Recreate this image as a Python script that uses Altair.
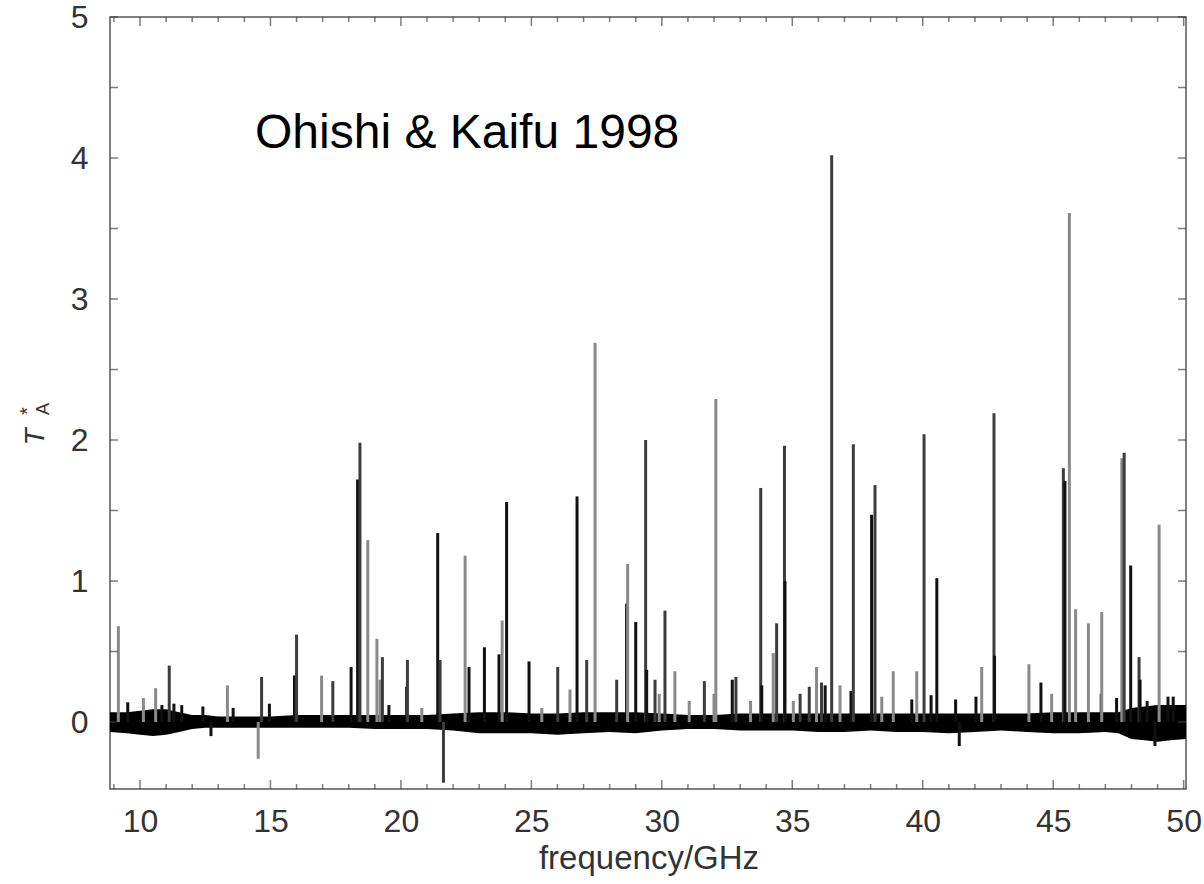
import altair as alt
import pandas as pd

# ---- spectral lines (GHz, T*_A, shade) ----
line_freq = [9.17, 9.53, 10.13, 10.60, 10.84, 11.12, 11.30, 11.60, 12.41, 13.35,
             13.57, 14.66, 14.96, 15.92, 16.00, 16.96, 17.39, 18.09, 18.34, 18.43,
             18.73, 19.08, 19.20, 19.29, 19.54, 20.22, 20.25, 20.80, 21.41, 21.50,
             22.46, 22.61, 23.20, 23.76, 23.88, 24.05, 24.91, 25.40, 26.01, 26.48,
             26.75, 27.12, 27.44, 28.27, 28.65, 28.69, 29.00, 29.38, 29.42, 29.74,
             29.90, 30.12, 30.50, 31.05, 31.63, 32.00, 32.07, 32.70, 32.84, 33.40,
             33.79, 33.83, 34.27, 34.40, 34.70, 34.72, 35.04, 35.30, 35.65, 35.93,
             36.12, 36.26, 36.51, 36.83, 37.25, 37.34, 38.04, 38.17, 38.43, 38.87,
             39.58, 39.77, 40.05, 40.32, 40.54, 41.26, 42.04, 42.26, 42.73, 42.75,
             44.07, 44.53, 44.94, 45.39, 45.45, 45.62, 45.86, 46.35, 46.84, 46.86,
             47.43, 47.63, 47.72, 47.97, 48.29, 48.33, 48.60, 49.06, 49.40, 49.60,
             12.72, 14.53, 21.63, 41.40, 48.90]
line_height = [0.68, 0.14, 0.17, 0.24, 0.12, 0.40, 0.13, 0.12, 0.11, 0.26,
               0.10, 0.32, 0.13, 0.33, 0.62, 0.33, 0.29, 0.39, 1.72, 1.98,
               1.29, 0.59, 0.30, 0.46, 0.12, 0.25, 0.44, 0.10, 1.34, 0.44,
               1.18, 0.39, 0.53, 0.48, 0.72, 1.56, 0.43, 0.10, 0.39, 0.23,
               1.60, 0.44, 2.69, 0.30, 0.84, 1.12, 0.71, 2.00, 0.37, 0.30,
               0.20, 0.79, 0.36, 0.15, 0.29, 0.20, 2.29, 0.30, 0.32, 0.15,
               1.66, 0.26, 0.49, 0.70, 1.96, 1.00, 0.15, 0.20, 0.25, 0.39,
               0.28, 0.26, 4.02, 0.26, 0.22, 1.97, 1.47, 1.68, 0.18, 0.36,
               0.16, 0.36, 2.04, 0.19, 1.02, 0.16, 0.18, 0.39, 2.19, 0.47,
               0.41, 0.28, 0.20, 1.80, 1.71, 3.61, 0.80, 0.70, 0.20, 0.78,
               0.17, 1.87, 1.91, 1.11, 0.46, 0.30, 0.15, 1.40, 0.18, 0.18,
               -0.10, -0.26, -0.43, -0.17, -0.17]
line_shade = ["g", "k", "g", "g", "k", "m", "k", "k", "k", "g",
              "k", "m", "k", "k", "m", "g", "m", "k", "k", "m",
              "g", "g", "g", "m", "k", "k", "m", "g", "k", "m",
              "g", "k", "k", "k", "g", "k", "k", "g", "m", "g",
              "k", "m", "g", "m", "k", "g", "k", "m", "k", "m",
              "g", "m", "g", "g", "m", "g", "g", "k", "m", "g",
              "m", "k", "g", "m", "m", "k", "g", "m", "m", "g",
              "m", "k", "m", "g", "k", "m", "k", "m", "g", "g",
              "k", "g", "m", "k", "k", "k", "k", "g", "m", "k",
              "g", "k", "g", "m", "k", "g", "g", "g", "k", "g",
              "k", "g", "m", "k", "m", "k", "k", "g", "k", "k",
              "k", "g", "m", "k", "k"]

# ---- envelope of the noisy baseline ----
noise_freq = [8.85, 9.5, 10.0, 10.5, 11.0, 11.5, 12.0, 12.5, 13.0, 14.0,
              15.0, 16.0, 17.0, 18.0, 19.0, 20.0, 21.0, 22.0, 23.0, 24.0,
              25.0, 26.0, 27.0, 28.0, 29.0, 30.0, 31.0, 32.0, 33.0, 34.0,
              35.0, 36.0, 37.0, 38.0, 39.0, 40.0, 41.0, 42.0, 43.0, 44.0,
              45.0, 46.0, 47.0, 47.5, 48.0, 48.5, 49.0, 49.5, 50.09]
noise_upper = [0.07, 0.07, 0.08, 0.09, 0.09, 0.07, 0.05, 0.05, 0.04, 0.04,
               0.04, 0.05, 0.05, 0.05, 0.05, 0.05, 0.05, 0.06, 0.07, 0.07,
               0.06, 0.06, 0.07, 0.07, 0.07, 0.06, 0.05, 0.05, 0.06, 0.06,
               0.06, 0.06, 0.06, 0.06, 0.06, 0.06, 0.06, 0.06, 0.06, 0.06,
               0.07, 0.07, 0.07, 0.07, 0.10, 0.11, 0.12, 0.12, 0.12]
noise_lower = [-0.07, -0.08, -0.09, -0.10, -0.09, -0.07, -0.05, -0.04, -0.04, -0.04,
               -0.04, -0.04, -0.04, -0.04, -0.05, -0.05, -0.05, -0.06, -0.08, -0.08,
               -0.08, -0.09, -0.08, -0.07, -0.08, -0.06, -0.05, -0.05, -0.06, -0.06,
               -0.06, -0.07, -0.07, -0.06, -0.07, -0.07, -0.08, -0.07, -0.06, -0.07,
               -0.08, -0.08, -0.07, -0.08, -0.12, -0.13, -0.14, -0.13, -0.12]

x_tick_labels = [10, 15, 20, 25, 30, 35, 40, 45, 50]
y_tick_labels = [0, 1, 2, 3, 4, 5]
x_domain = [8.85, 50.09]
y_domain = [-0.475, 5.0]

annotation = "Ohishi & Kaifu 1998"
x_title = "frequency/GHz"

W, H = 1076, 772
FONT = "Liberation Sans"
TICK_COLOR = "#444444"

lines = pd.DataFrame({"f": line_freq, "t": line_height, "shade": line_shade})
lines["base"] = 0.0
noise = pd.DataFrame({"f": noise_freq, "hi": noise_upper, "lo": noise_lower})

xs = alt.Scale(domain=x_domain, nice=False, zero=False)
ys = alt.Scale(domain=y_domain, nice=False, zero=False)

x_axis = alt.Axis(values=x_tick_labels, title="", labelFont=FONT,
                  labelFontSize=32, labelColor="#333333", ticks=False, domain=False,
                  grid=False, labelPadding=17, labelFlush=False)
y_axis = alt.Axis(values=y_tick_labels, title="", labelFont=FONT, labelFontSize=32,
                  labelColor="#333333", ticks=False, domain=False, grid=False,
                  labelPadding=22, labelFlush=False)

X = alt.X("f:Q", scale=xs, axis=x_axis)

band = alt.Chart(noise).mark_area(color="#000000", clip=True).encode(
    x=X,
    y=alt.Y("lo:Q", scale=ys, axis=y_axis),
    y2="hi:Q",
)

rules = alt.Chart(lines).mark_rule(strokeWidth=3, clip=True).encode(
    x=X,
    y=alt.Y("t:Q", scale=ys, axis=y_axis),
    y2="base:Q",
    color=alt.Color("shade:N", scale=alt.Scale(domain=["k", "m", "g"],
                    range=["#111111", "#3c3c3c", "#8a8a8a"]), legend=None),
)

# ---- inward ticks on all four sides ----
x_major = pd.DataFrame({"f": x_tick_labels})
x_minor = pd.DataFrame({"f": [v for v in range(9, 51) if v not in x_tick_labels]})
y_all = pd.DataFrame({"t": [i * 0.5 for i in range(0, 11)]})


def xticks(df, length, top):
    return alt.Chart(df).mark_tick(size=length, thickness=1.5, color=TICK_COLOR).encode(
        x=X,
        y=alt.value(length / 2 if top else H - length / 2),
    )


def yticks(df, length, right):
    return alt.Chart(df).mark_tick(size=length, thickness=1.5, color=TICK_COLOR).encode(
        y=alt.Y("t:Q", scale=ys, axis=y_axis),
        x=alt.value(W - length / 2 if right else length / 2),
    )


tick_layers = [
    xticks(x_major, 9, False), xticks(x_minor, 5, False),
    xticks(x_major, 9, True), xticks(x_minor, 5, True),
    yticks(y_all, 8, False), yticks(y_all, 8, True),
]

label = alt.Chart(pd.DataFrame({"s": [annotation]})).mark_text(
    align="left", baseline="alphabetic", fontSize=48, font=FONT, color="#000000"
).encode(x=alt.value(145), y=alt.value(131), text="s:N")

xt = alt.Chart(pd.DataFrame({"s": [x_title]})).mark_text(
    align="center", baseline="alphabetic", fontSize=33, font=FONT, color="#333333"
).encode(x=alt.value(W / 2 + 1), y=alt.value(852), text="s:N")

# y title: T*_A (rotated)
yt_T = alt.Chart(pd.DataFrame({"s": ["T"]})).mark_text(
    angle=270, align="center", baseline="middle", fontSize=28, font=FONT,
    fontStyle="italic", color="#333333"
).encode(x=alt.value(-74), y=alt.value(420), text="s:N")
yt_star = alt.Chart(pd.DataFrame({"s": ["*"]})).mark_text(
    angle=270, align="center", baseline="middle", fontSize=20, font=FONT,
    color="#333333"
).encode(x=alt.value(-82), y=alt.value(394), text="s:N")
yt_A = alt.Chart(pd.DataFrame({"s": ["A"]})).mark_text(
    angle=270, align="center", baseline="middle", fontSize=18, font=FONT,
    color="#333333"
).encode(x=alt.value(-66), y=alt.value(392), text="s:N")

chart = alt.layer(band, rules, *tick_layers, label, xt, yt_T, yt_star, yt_A).properties(
    width=W, height=H,
    padding={"left": 110, "top": 17, "right": 18, "bottom": 95},
    autosize=alt.AutoSizeParams(type="none"),
    background="white",
).configure_view(stroke="#555555", strokeWidth=1.5)

chart.save("out.html", embed_options={"renderer": "svg", "actions": False})
